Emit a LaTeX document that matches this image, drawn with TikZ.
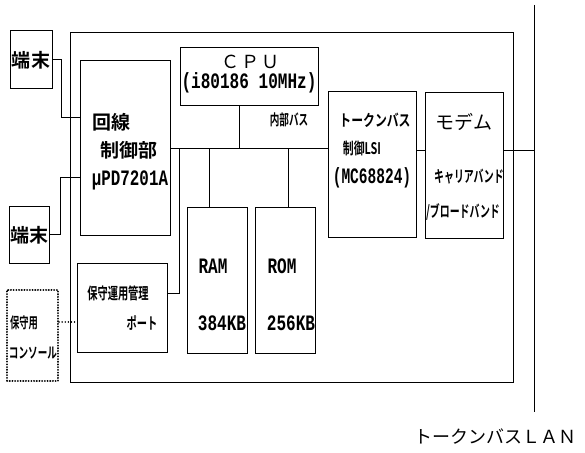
\documentclass[tikz,border=0pt]{standalone}
\usepackage{fontspec}
\usepackage{graphicx}
\newfontfamily\jpr{Noto Sans CJK JP}
\newfontfamily\jpb{Noto Sans CJK JP Bold}
\newfontfamily\monob{Liberation Mono Bold}
\newcommand{\jt}[3]{\scalebox{#1}[1]{\fontsize{#2}{#2}\selectfont\jpb #3}}
\newcommand{\jr}[3]{\scalebox{#1}[1]{\fontsize{#2}{#2}\selectfont\jpr #3}}
\newcommand{\mt}[3]{\scalebox{#1}[1]{\fontsize{#2}{#2}\selectfont\monob #3}}
\tikzset{
  box/.style={draw, line width=0.9pt, inner sep=0pt},
  lbl/.style={inner sep=0pt, anchor=center},
  wire/.style={line width=0.9pt},
  dotbox/.style={draw, line width=2pt, dash pattern=on 0.1pt off 2.6pt, line cap=round, inner sep=0pt},
  dotwire/.style={line width=1.4pt, dash pattern=on 0.1pt off 3pt, line cap=round}
}
\begin{document}
\begin{tikzpicture}[x=1pt,y=-1pt]
\useasboundingbox (0,0) rectangle (585,452);
% boxes
\node[box, minimum width=443pt, minimum height=350pt] (outer) at (291.5,207) {};
\node[box, minimum width=42pt, minimum height=58pt] (t1) at (31,59) {};
\node[box, minimum width=40pt, minimum height=57pt] (t2) at (29,234.5) {};
\node[box, minimum width=90pt, minimum height=175pt] (line) at (125,148) {};
\node[box, minimum width=138pt, minimum height=58pt] (cpu) at (249,76) {};
\node[box, minimum width=60pt, minimum height=146pt] (ram) at (217,280) {};
\node[box, minimum width=60pt, minimum height=146pt] (rom) at (285,280) {};
\node[box, minimum width=90pt, minimum height=89pt] (port) at (122,307.5) {};
\node[dotbox, minimum width=51pt, minimum height=91pt] (console) at (32.5,335.5) {};
\node[box, minimum width=88pt, minimum height=146pt] (token) at (372,164) {};
\node[box, minimum width=78pt, minimum height=146pt] (modem) at (464,165) {};
% coordinates
\coordinate (lanTop) at (534,5);
\coordinate (lanBot) at (534,412);
\coordinate (b1) at (61,117);
\coordinate (b2) at (60,177);
\coordinate (busCPU) at (239,148);
\coordinate (dropA) at (209,148);
\coordinate (dropB) at (288,148);
\coordinate (pA) at (179,148);
\coordinate (pB) at (179,293);
\coordinate (cpt) at (0,322);
\coordinate (mline) at (0,150);
% LAN
\draw[wire] (lanTop) -- (lanBot);
% connectors
\draw[wire] (t1.east) -| (b1) -- (line.west |- b1);
\draw[wire] (t2.east) -| (b2) -- (line.west |- b2);
\draw[wire] (line.east) -- (token.west |- line.east);
\draw[wire] (cpu.south -| busCPU) -- (busCPU);
\draw[wire] (dropA) -- (ram.north -| dropA);
\draw[wire] (dropB) -- (rom.north -| dropB);
\draw[wire] (pA) |- (port.east |- pB);
\draw[dotwire] (console.east |- cpt) -- (port.west |- cpt);
\draw[wire] (token.east |- mline) -- (modem.west |- mline);
\draw[wire] (modem.east |- mline) -- (lanTop |- mline);
% labels
\node[lbl] (l1) at (31,60) {\jt{1}{19}{端末}};
\node[lbl] (l2) at (29,235) {\jt{1}{19}{端末}};
\node[lbl] (l3) at (111,122) {\jt{1}{19}{回線}};
\node[lbl] (l4) at (129,150) {\jt{1}{19}{制御部}};
\node[lbl] (l5) at (130,180) {\mt{0.72}{22}{μPD7201A}};
\node[lbl] (l6) at (250,62) {\jr{1}{18}{Ｃ\hspace{2pt}Ｐ\hspace{2pt}Ｕ}};
\node[lbl] (l7) at (249,83) {\mt{0.73}{22}{(i80186 10MHz)}};
\node[lbl] (l8) at (289,120) {\jt{0.64}{15}{内部バス}};
\node[lbl] (l9) at (375,120) {\jt{0.74}{16}{トークンバス}};
\node[lbl] (l10) at (362,148) {\jt{0.68}{16}{制御LSI}};
\node[lbl] (l11) at (372,178) {\mt{0.66}{22}{(MC68824)}};
\node[lbl] (l12) at (464,122) {\jr{1}{19}{モデム}};
\node[lbl] (l13) at (469,177) {\jt{0.62}{16}{キャリアバンド}};
\node[lbl] (l14) at (463,212) {\jt{0.62}{16}{/ブロードバンド}};
\node[lbl] (l15) at (213,266) {\mt{0.73}{22}{RAM}};
\node[lbl] (l16) at (222,323) {\mt{0.73}{22}{384KB}};
\node[lbl] (l17) at (282,266) {\mt{0.73}{22}{ROM}};
\node[lbl] (l18) at (291,323) {\mt{0.73}{22}{256KB}};
\node[lbl] (l19) at (118,293) {\jt{0.64}{16}{保守運用管理}};
\node[lbl] (l20) at (142,323) {\jt{0.64}{16}{ポート}};
\node[lbl] (l21) at (24,323) {\jt{0.62}{15}{保守用}};
\node[lbl] (l22) at (33,353) {\jt{0.64}{15}{コンソール}};
\node[lbl] (l23) at (495,437) {\jr{1}{18}{トークンバスＬＡＮ}};
\end{tikzpicture}
\end{document}
